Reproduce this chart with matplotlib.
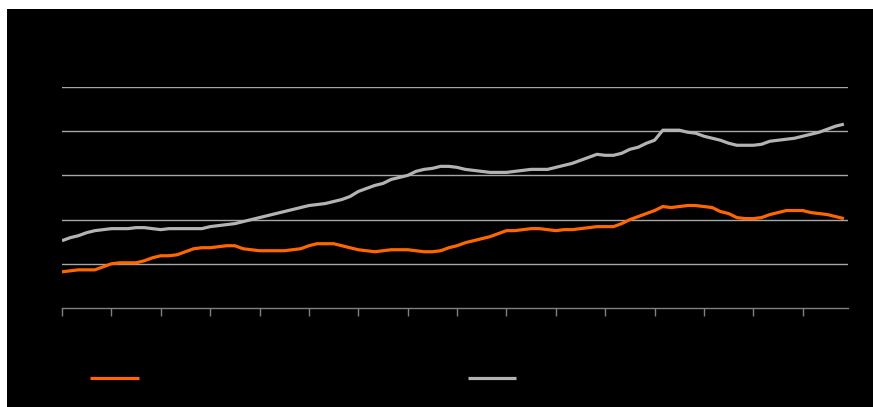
import numpy as np
import matplotlib
matplotlib.use("Agg")
import matplotlib.pyplot as plt
from matplotlib.patches import Rectangle

# two-monthly readings, in gridline units (0 = axis line, 5 = top gridline)
months = np.arange(0, 192, 2)

orange_px = [272, 271, 270, 270, 270, 267, 264, 263, 263, 263,
             261, 258, 256, 256, 255, 252, 249, 248, 248, 247,
             246, 246, 249, 250, 251, 251, 251, 251, 250, 249,
             246, 244, 244, 244, 246, 248, 250, 251, 252, 251,
             250, 250, 250, 251, 252, 252, 251, 248, 246, 243,
             241, 239, 237, 234, 231, 231, 230, 229, 229, 230,
             231, 230, 230, 229, 228, 227, 227, 227, 224, 220,
             217, 214, 211, 207, 208, 207, 206, 206, 207, 208,
             212, 214, 218, 219, 219, 218, 215, 213, 211, 211,
             211, 213, 214, 215, 217, 219]

grey_px = [241, 238, 236, 233, 231, 230, 229, 229, 229, 228,
           228, 229, 230, 229, 229, 229, 229, 229, 227, 226,
           225, 224, 222, 220, 218, 216, 214, 212, 210, 208,
           206, 205, 204, 202, 200, 197, 192, 189, 186, 184,
           180, 178, 176, 172, 170, 169, 167, 167, 168, 170,
           171, 172, 173, 173, 173, 172, 171, 170, 170, 170,
           168, 166, 164, 161, 158, 155, 156, 156, 154, 150,
           148, 144, 141, 131, 131, 131, 133, 134, 137, 139,
           141, 144, 146, 146, 146, 145, 142, 141, 140, 139,
           137, 135, 133, 130, 127, 125]

orange = (308 - np.array(orange_px)) / 44.0
grey = (308 - np.array(grey_px)) / 44.0

grid_levels = [1, 2, 3, 4, 5]
year_ticks = np.arange(0, 192, 12)

fig = plt.figure(figsize=(8.73, 4.07), dpi=100)
fig.patch.set_facecolor("white")
bg = Rectangle((7 / 873, 0), 1, (407 - 9) / 407, transform=fig.transFigure,
               facecolor="black", edgecolor="none", zorder=-10)
fig.add_artist(bg)

ax = fig.add_axes([62 / 873, (407 - 308) / 407, (848 - 62) / 873, (308 - 87) / 407])
ax.patch.set_alpha(0)

for g in grid_levels:
    ax.axhline(g, color="#a6a6a6", lw=1.0, zorder=1)

l1, = ax.plot(months, orange, color="#ff6600", lw=2.3, zorder=3,
              solid_capstyle="butt")
l2, = ax.plot(months, grey, color="#b3b3b3", lw=2.3, zorder=3,
              solid_capstyle="butt")

ax.set_xlim(0, 191)
ax.set_ylim(0, 5)
for s in ["top", "right", "left"]:
    ax.spines[s].set_visible(False)
ax.spines["bottom"].set_color("#808080")
ax.spines["bottom"].set_linewidth(1.0)
ax.set_xticks(year_ticks)
ax.set_xticklabels([""] * len(year_ticks))
ax.tick_params(axis="x", direction="out", length=6, width=1, color="#808080")
ax.set_yticks([])

leg = ax.legend([l1, l2], ["", ""], ncol=2, loc="center left",
                bbox_to_anchor=(90 / 873, (407 - 379) / 407),
                bbox_transform=fig.transFigure, frameon=False,
                borderaxespad=0, borderpad=0, handlelength=3.5,
                handletextpad=0.8, columnspacing=22.9, labelcolor="black")

fig.savefig("out.png", dpi=100, facecolor=fig.get_facecolor())
